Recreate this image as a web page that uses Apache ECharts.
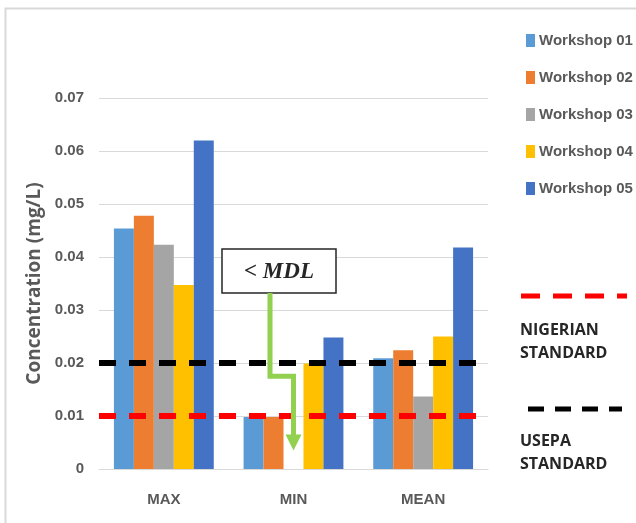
<!DOCTYPE html>
<html>
<head>
<meta charset="utf-8">
<script src="https://cdn.jsdelivr.net/npm/echarts@6/dist/echarts.min.js"></script>
<style>
  html, body { margin: 0; padding: 0; background: #fff; }
  #chart { width: 636px; height: 523px; }
</style>
</head>
<body>
<div id="chart"></div>
<script>
// Concentration per workshop, grouped by statistic
const categories = ['MAX', 'MIN', 'MEAN'];
const workshopNames = ['Workshop 01', 'Workshop 02', 'Workshop 03', 'Workshop 04', 'Workshop 05'];
const workshop01 = [0.0454, 0.0098, 0.0209];
const workshop02 = [0.0478, 0.0098, 0.0224];
const workshop03 = [0.0423, null, 0.0137];
const workshop04 = [0.0347, 0.0199, 0.0250];
const workshop05 = [0.0620, 0.0248, 0.0418];
const nigerianStandard = 0.01;
const usepaStandard = 0.02;
const yTicks = [0, 0.01, 0.02, 0.03, 0.04, 0.05, 0.06, 0.07];

const colors = ['#5b9bd5', '#ed7d31', '#a5a5a5', '#ffc000', '#4472c4'];
const seriesValues = [workshop01, workshop02, workshop03, workshop04, workshop05];
const FONT = '"Liberation Sans", Arial, sans-serif';
const GRAY = '#595959';

const chart = echarts.init(document.getElementById('chart'));

const dashStyle = (color) => ({ color: color, width: 6, type: [17, 13] });

const series = seriesValues.map((vals, i) => ({
  name: workshopNames[i],
  type: 'bar',
  data: vals,
  barGap: '0%',
  barCategoryGap: '23%',
  itemStyle: { color: colors[i] },
  emphasis: { disabled: true }
}));

// standard limits drawn across the full plot width
series[0].markLine = {
  silent: true,
  symbol: 'none',
  label: { show: false },
  z: 10,
  data: [
    { yAxis: usepaStandard, lineStyle: dashStyle('#000000') },
    { yAxis: nigerianStandard, lineStyle: dashStyle('#ff0000') }
  ]
};

chart.setOption({
  backgroundColor: '#ffffff',
  animation: false,
  grid: { left: 99, right: 148, top: 98, bottom: 54 },
  legend: {
    orient: 'vertical',
    left: 521,
    top: 28,
    itemWidth: 9,
    itemHeight: 13,
    itemGap: 22,
    icon: 'rect',
    selectedMode: false,
    data: workshopNames,
    textStyle: { fontFamily: FONT, fontSize: 15, fontWeight: 'bold', color: GRAY, padding: [0, 0, 0, -1] }
  },
  xAxis: {
    type: 'category',
    data: categories,
    axisLine: { lineStyle: { color: '#d9d9d9', width: 1 } },
    axisTick: { show: false },
    axisLabel: { fontFamily: FONT, fontSize: 15, fontWeight: 'bold', color: GRAY, margin: 23 }
  },
  yAxis: {
    type: 'value',
    min: yTicks[0],
    max: yTicks[yTicks.length - 1],
    interval: 0.01,
    name: 'Concentration (mg/L)',
    nameLocation: 'middle',
    nameGap: 54,
    nameTextStyle: { fontFamily: '"Open Sans", sans-serif', fontSize: 19, fontWeight: 'bold', color: GRAY },
    axisLine: { show: false },
    axisTick: { show: false },
    splitLine: { lineStyle: { color: '#d9d9d9', width: 1 } },
    axisLabel: {
      fontFamily: FONT, fontSize: 15, fontWeight: 'bold', color: GRAY, margin: 15,
      formatter: (v) => (v === 0 ? '0' : v.toFixed(2))
    }
  },
  series: series
});

// Annotation and side key for the standards
function drawGraphics() {
  const minX = chart.convertToPixel({ xAxisIndex: 0 }, 'MIN');
  const tipY = chart.convertToPixel({ yAxisIndex: 0 }, 0.0035);
  const bendY = chart.convertToPixel({ yAxisIndex: 0 }, 0.0175);
  const boxLeft = 222, boxTop = 249, boxW = 114, boxH = 44;
  const stemX = 270;
  const green = '#92d050';
  chart.setOption({
    graphic: [
      // chart frame
      { type: 'polyline', shape: { points: [[5.5, 523], [5.5, 8.5], [636, 8.5]] },
        style: { stroke: '#d9d9d9', lineWidth: 2, fill: null }, silent: true },
      // < MDL callout
      { type: 'rect', shape: { x: boxLeft, y: boxTop, width: boxW, height: boxH },
        style: { fill: '#ffffff', stroke: '#262626', lineWidth: 1.5 }, z: 100 },
      { type: 'text', x: boxLeft + boxW / 2, y: boxTop + boxH / 2 + 1, z: 101,
        style: { text: '< MDL', font: 'italic bold 23px "Liberation Serif", "DejaVu Serif", serif',
                 fill: '#262626', align: 'center', verticalAlign: 'middle' } },
      { type: 'polyline', z: 100,
        shape: { points: [[stemX, boxTop + boxH], [stemX, bendY], [minX, bendY], [minX, tipY - 14]] },
        style: { stroke: green, lineWidth: 5, fill: null, lineJoin: 'miter' } },
      { type: 'polygon', z: 100,
        shape: { points: [[minX - 8, tipY - 16], [minX + 8, tipY - 16], [minX, tipY]] },
        style: { fill: green } },
      // standards key
      { type: 'line', shape: { x1: 521, y1: 296, x2: 627, y2: 296 },
        style: { stroke: '#ff0000', lineWidth: 5, lineDash: [19, 13] } },
      { type: 'text', x: 520, y: 319,
        style: { text: 'NIGERIAN\nSTANDARD', font: 'bold 16px "Open Sans", "Liberation Sans", sans-serif',
                 fill: '#262626', lineHeight: 23 } },
      { type: 'line', shape: { x1: 528, y1: 409, x2: 622, y2: 409 },
        style: { stroke: '#000000', lineWidth: 5, lineDash: [16, 11] } },
      { type: 'text', x: 520, y: 430,
        style: { text: 'USEPA\nSTANDARD', font: 'bold 16px "Open Sans", "Liberation Sans", sans-serif',
                 fill: '#262626', lineHeight: 23 } }
    ]
  });
}
drawGraphics();
</script>
</body>
</html>
